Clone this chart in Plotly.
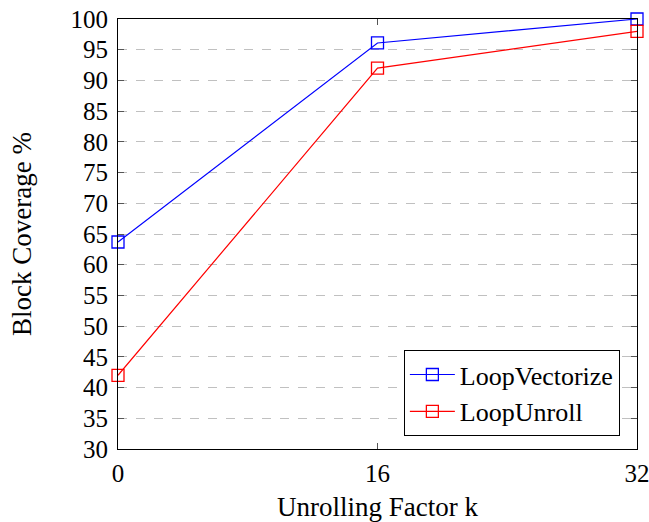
import plotly.graph_objects as go

k_values = [0, 16, 32]
loop_vectorize = [63.7, 96.1, 100.0]
loop_unroll = [42.0, 92.0, 98.0]
y_ticks = list(range(30, 101, 5))

FONT = "Liberation Serif"

fig = go.Figure()
fig.add_trace(go.Scatter(
    x=k_values, y=loop_vectorize, name="LoopVectorize", mode="lines+markers",
    line=dict(color="blue", width=1.2),
    marker=dict(symbol="square-open", size=12, color="blue", line=dict(width=1.3)),
    cliponaxis=False,
))
fig.add_trace(go.Scatter(
    x=k_values, y=loop_unroll, name="LoopUnroll", mode="lines+markers",
    line=dict(color="red", width=1.2),
    marker=dict(symbol="square-open", size=12, color="red", line=dict(width=1.3)),
    cliponaxis=False,
))

fig.update_layout(
    width=649, height=522,
    margin=dict(l=118, r=12, t=19, b=73, autoexpand=False),
    paper_bgcolor="white", plot_bgcolor="white",
    font=dict(family=FONT, size=25, color="black"),
    showlegend=True,
    legend=dict(
        x=0.967, y=0.03, xanchor="right", yanchor="bottom",
        bordercolor="black", borderwidth=1, bgcolor="white",
        font=dict(family=FONT, size=26),
        itemwidth=45, tracegroupgap=0,
    ),
    xaxis=dict(
        range=[0, 32], tickvals=k_values, ticktext=[str(v) for v in k_values],
        showgrid=False, zeroline=False,
        showline=True, linecolor="black", linewidth=1.2, mirror="allticks",
        ticks="inside", ticklen=6, tickcolor="#555",
        title=dict(text="Unrolling Factor k", font=dict(family=FONT, size=27), standoff=14),
        tickfont=dict(family=FONT, size=25),
        ticklabelstandoff=2,
        ticklabeloverflow="allow",
    ),
    yaxis=dict(
        range=[30, 100], tickvals=y_ticks,
        showgrid=True, gridcolor="#c0c0c0", griddash="dash", gridwidth=1,
        zeroline=False,
        showline=True, linecolor="black", linewidth=1.2, mirror="allticks",
        ticks="inside", ticklen=6, tickcolor="#555",
        title=dict(text="Block Coverage %", font=dict(family=FONT, size=27), standoff=30),
        tickfont=dict(family=FONT, size=25),
        ticklabelstandoff=4,
    ),
)

fig.write_html("out.html")
